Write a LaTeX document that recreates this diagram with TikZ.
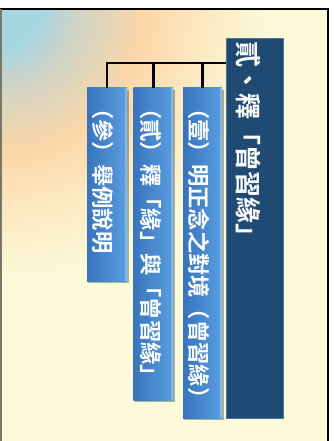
\documentclass[tikz,border=0pt]{standalone}
\usepackage{fontspec}
\newfontfamily\cjk{Noto Sans CJK TC}[BoldFont={Noto Sans CJK TC Bold}]
\definecolor{bgA}{RGB}{166,213,226}
\definecolor{bgM}{RGB}{208,212,198}
\definecolor{bgB}{RGB}{252,215,168}
\definecolor{bgC}{RGB}{252,233,194}
\definecolor{bgD}{RGB}{252,250,216}
\definecolor{mainblue}{RGB}{31,74,116}
\definecolor{mainedge}{RGB}{80,115,155}
\definecolor{subL}{RGB}{56,116,188}
\definecolor{subR}{RGB}{90,158,224}
\definecolor{subHi}{RGB}{125,184,238}
\definecolor{frameleft}{RGB}{120,120,105}
\pgfdeclareradialshading{bgshade}{\pgfpoint{0bp}{0bp}}{color(0bp)=(bgA); color(3.3bp)=(bgA); color(6.5bp)=(bgM); color(12bp)=(bgB); color(17bp)=(bgC); color(22.5bp)=(bgD); color(25bp)=(bgD); color(50bp)=(bgD)}
\begin{document}
\begin{tikzpicture}[x=1pt,y=-1pt,
  mainbox/.style={rectangle, draw=mainedge, line width=0.8pt, fill=mainblue, inner sep=0pt},
  subbox/.style={rectangle, draw=none, left color=subL, right color=subR, inner sep=0pt},
  maintext/.style={rotate=-90, anchor=west, inner sep=0pt, text=white, font=\cjk\bfseries\fontsize{26}{28}\selectfont},
  subtext/.style={rotate=-90, anchor=west, inner sep=0pt, text=white, font=\cjk\bfseries\fontsize{22.3}{24}\selectfont},
  link/.style={draw=black, line width=2.6pt},
  shadowbox/.style={fill=black, opacity=0.3}
]
\useasboundingbox (0,0) rectangle (334,441);
\fill[white] (0,0) rectangle (334,441);
% slide background
\begin{scope}
  \clip (0,9) rectangle (328,441);
  \fill[bgD] (0,9) rectangle (328,441);
  \shade[shading=bgshade] (0,9) circle (300pt);
\end{scope}
\draw[black, line width=2pt] (0,9) -- (328,9);
\draw[black, line width=2pt] (327.5,8) -- (327.5,441);
\draw[frameleft, line width=1.5pt] (0.75,9) -- (0.75,441);

% shadows
\fill[shadowbox] (184,90) rectangle (223.5,419.5);
\fill[shadowbox] (134.5,90) rectangle (174.5,401.5);
\fill[shadowbox] (88,90) rectangle (128.5,282.5);

% boxes
\node[mainbox, minimum width=57pt, minimum height=380pt] (main) at (254.5,228) {};
\node[subbox, minimum width=39pt, minimum height=330pt] (sub1) at (202.5,253) {};
\node[subbox, minimum width=39.5pt, minimum height=312pt] (sub2) at (153.25,244) {};
\node[subbox, minimum width=40pt, minimum height=193pt] (sub3) at (107,184.5) {};
\fill[subHi] ([xshift=-2pt]sub1.north east) rectangle (sub1.south east);
\fill[subHi] ([xshift=-2pt]sub2.north east) rectangle (sub2.south east);
\fill[subHi] ([xshift=-2pt]sub3.north east) rectangle (sub3.south east);

% connectors
\coordinate (bus) at (107,63);
\draw[link] (main.west |- bus) -- (bus) -- (sub3.north);
\draw[link] (sub2.north |- bus) -- (sub2.north);
\draw[link] (sub1.north |- bus) -- (sub1.north);

% texts
\node[maintext] (tmain) at (248.5,41) {貳、釋「曾習緣」};
\node[subtext] (t1) at (199.5,97) {（壹）明正念之對境（曾習緣）};
\node[subtext] (t2) at (150.5,97) {（貳）釋「緣」與「曾習緣」};
\node[subtext] (t3) at (102.5,97) {（參）舉例說明};
\end{tikzpicture}
\end{document}
